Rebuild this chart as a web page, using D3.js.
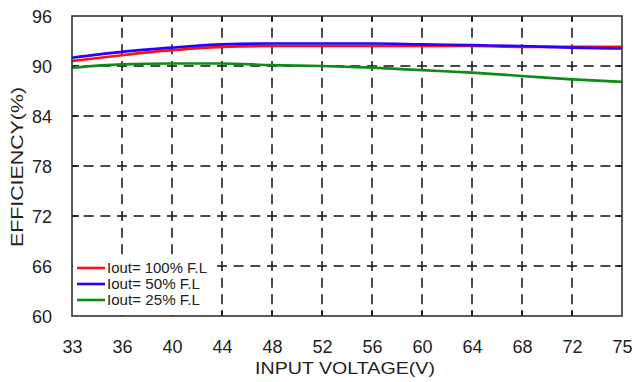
<!DOCTYPE html>
<html>
<head>
<meta charset="utf-8">
<script src="https://cdn.jsdelivr.net/npm/d3@7"></script>
<style>
  body { margin: 0; background: #fff; }
  svg text { font-family: "Liberation Sans", Arial, sans-serif; fill: #222; }
</style>
</head>
<body>
<svg id="chart" width="634" height="382"></svg>
<script>
// input voltage categories (evenly spaced on the chart)
var voltages = ["33", "36", "40", "44", "48", "52", "56", "60", "64", "68", "72", "75"];
var yTicks = [60, 66, 72, 78, 84, 90, 96];

var eff100 = [90.6, 91.3, 91.9, 92.3, 92.4, 92.4, 92.4, 92.4, 92.4, 92.3, 92.3, 92.3];
var eff50  = [91.0, 91.7, 92.2, 92.6, 92.7, 92.7, 92.7, 92.6, 92.5, 92.4, 92.2, 92.1];
var eff25  = [89.8, 90.2, 90.3, 90.3, 90.1, 90.0, 89.8, 89.5, 89.2, 88.8, 88.4, 88.1];

var seriesNames = ["Iout= 100% F.L", "Iout= 50% F.L", "Iout= 25% F.L"];
var seriesColors = ["#ff1010", "#2a00ff", "#108a18"];
var seriesData = [eff100, eff50, eff25];

// note: "top" is window.top, so use other names
var svg = d3.select("#chart"),
    pLeft = 72, pRight = 622, pTop = 16, pBottom = 316;

var x = d3.scalePoint().domain(voltages).range([pLeft, pRight]);
var y = d3.scaleLinear().domain([60, 96]).range([pBottom, pTop]);

// dashed grid, dashes centred on the intersections
var period = 50 / 3;
var grid = svg.append("g")
    .attr("stroke", "#111")
    .attr("stroke-width", 1.5)
    .attr("stroke-dasharray", "10," + (period - 10))
    .attr("stroke-dashoffset", 5);

grid.selectAll(".vg").data(voltages.slice(1, -1)).enter().append("line")
    .attr("x1", d => x(d)).attr("x2", d => x(d))
    .attr("y1", pTop).attr("y2", pBottom);

grid.selectAll(".hg").data(yTicks.slice(1, -1)).enter().append("line")
    .attr("x1", pLeft).attr("x2", pRight)
    .attr("y1", d => y(d)).attr("y2", d => y(d));

// inner ticks on all sides
var ticks = svg.append("g").attr("stroke", "#111").attr("stroke-width", 1.5);
voltages.slice(1, -1).forEach(function (v) {
    ticks.append("line").attr("x1", x(v)).attr("x2", x(v)).attr("y1", pBottom).attr("y2", pBottom - 6);
    ticks.append("line").attr("x1", x(v)).attr("x2", x(v)).attr("y1", pTop).attr("y2", pTop + 6);
});
yTicks.slice(1, -1).forEach(function (t) {
    ticks.append("line").attr("x1", pLeft).attr("x2", pLeft + 7).attr("y1", y(t)).attr("y2", y(t));
    ticks.append("line").attr("x1", pRight).attr("x2", pRight - 7).attr("y1", y(t)).attr("y2", y(t));
});

// curves
var line = d3.line()
    .x((d, i) => x(voltages[i]))
    .y(d => y(d))
    .curve(d3.curveMonotoneX);

seriesData.forEach(function (s, i) {
    svg.append("path")
        .datum(s)
        .attr("fill", "none")
        .attr("stroke", seriesColors[i])
        .attr("stroke-width", 2.6)
        .attr("d", line);
});

// frame
svg.append("rect")
    .attr("x", pLeft).attr("y", pTop)
    .attr("width", pRight - pLeft).attr("height", pBottom - pTop)
    .attr("fill", "none").attr("stroke", "#333").attr("stroke-width", 1.6);

// axes (labels only)
var xAxis = svg.append("g")
    .attr("transform", "translate(0," + pBottom + ")")
    .call(d3.axisBottom(x).tickSize(0).tickPadding(0));
xAxis.select(".domain").remove();
xAxis.selectAll("text")
    .attr("y", 37).attr("dy", null)
    .style("font-size", "18px")
    .attr("fill", "#222");

var yAxis = svg.append("g")
    .attr("transform", "translate(" + pLeft + ",0)")
    .call(d3.axisLeft(y).tickValues(yTicks).tickSize(0).tickPadding(0));
yAxis.select(".domain").remove();
yAxis.selectAll("text")
    .attr("x", -20).attr("dy", "0.36em")
    .style("font-size", "18px")
    .attr("fill", "#222");

// legend
var legend = svg.append("g");
legend.append("rect")
    .attr("x", pLeft + 1).attr("y", 257)
    .attr("width", 140).attr("height", pBottom - 257 - 1)
    .attr("fill", "#fff");
var legLens = [100, 93, 93];
seriesNames.forEach(function (n, i) {
    var ly = 268 + i * 16;
    legend.append("line")
        .attr("x1", 77).attr("x2", 105)
        .attr("y1", ly).attr("y2", ly)
        .attr("stroke", seriesColors[i]).attr("stroke-width", 2.6);
    legend.append("text")
        .attr("x", 107).attr("y", ly + 5)
        .attr("textLength", legLens[i])
        .attr("lengthAdjust", "spacingAndGlyphs")
        .style("font-size", "14px")
        .text(n);
});

// axis titles
svg.append("text")
    .attr("x", 345).attr("y", 374)
    .attr("text-anchor", "middle")
    .attr("textLength", 180)
    .attr("lengthAdjust", "spacingAndGlyphs")
    .style("font-size", "17px")
    .text("INPUT VOLTAGE(V)");

svg.append("text")
    .attr("transform", "translate(23,167) rotate(-90)")
    .attr("text-anchor", "middle")
    .attr("textLength", 160)
    .attr("lengthAdjust", "spacingAndGlyphs")
    .style("font-size", "17px")
    .text("EFFICIENCY(%)");
</script>
</body>
</html>
